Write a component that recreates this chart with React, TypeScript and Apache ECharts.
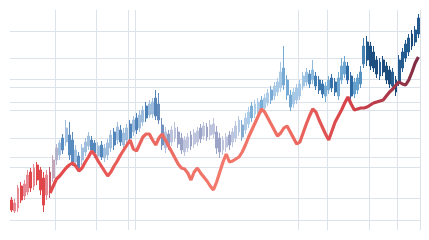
import React, { useEffect, useRef } from 'react';
import * as echarts from 'echarts';

// [open, close, lowest, highest]
const candles: number[][] = [
  [30,20,18,33],[19,27,17,31],[22,42,18,45],[44,30,27,48],[34,46,30,50],
  [38,55,35,60],[58,42,38,62],[44,62,40,66],[65,50,45,68],[60,40,35,63],
  [52,25,18,58],[35,55,30,60],[58,38,32,63],[52,70,48,75],[70,82,65,86],
  [75,87,70,90],[92,80,76,96],[88,102,84,110],[95,75,70,108],[90,68,64,98],
  [68,80,62,85],[74,62,58,78],[70,82,65,86],[78,88,74,92],[84,94,80,98],
  [90,80,76,94],[87,77,72,90],[74,84,70,88],[85,73,70,89],[72,82,68,86],
  [75,87,70,91],[82,95,78,100],[98,85,80,102],[90,103,86,108],[100,88,84,105],
  [85,97,80,102],[90,102,85,106],[106,92,88,110],[98,110,94,114],[112,100,96,117],
  [102,115,98,120],[108,120,104,124],[124,112,108,128],[115,126,112,130],[116,128,112,132],
  [132,114,110,140],[126,110,106,137],[105,85,80,112],[82,98,77,103],[96,84,80,100],
  [88,100,84,104],[92,102,88,108],[98,86,82,103],[92,80,76,97],[78,90,74,94],
  [82,93,78,97],[95,84,80,99],[86,97,82,101],[88,99,84,103],[102,91,87,106],
  [94,104,90,108],[103,93,89,107],[95,105,90,110],[96,106,92,112],[98,82,76,104],
  [92,78,72,97],[80,90,75,94],[83,93,78,97],[95,85,80,99],[88,98,83,102],
  [92,104,88,109],[98,110,94,114],[105,93,89,110],[100,112,96,117],[106,118,102,123],
  [124,112,108,128],[116,126,112,130],[118,128,114,132],[130,120,117,134],[122,132,118,136],
  [127,137,124,141],[140,130,126,144],[134,144,130,148],[138,148,134,152],[142,158,138,168],
  [162,145,140,184],[150,135,130,155],[135,123,119,140],[126,138,122,142],[130,142,126,146],
  [134,146,130,150],[144,154,140,158],[148,158,144,162],[156,146,142,160],[150,160,146,170],
  [154,144,140,158],[150,140,136,154],[146,136,132,150],[134,144,128,148],[140,150,136,154],
  [152,142,138,156],[148,138,134,152],[134,152,130,158],[150,164,146,172],[156,168,152,174],
  [164,150,146,168],[154,134,130,158],[136,148,132,152],[140,152,136,156],[146,158,142,164],
  [166,184,162,192],[188,170,164,194],[184,164,160,188],[178,162,158,184],[170,156,152,174],
  [154,168,150,172],[170,158,154,174],[164,150,146,168],[160,146,142,164],[144,158,140,162],
  [150,138,134,154],[148,170,144,175],[162,178,158,182],[172,186,168,190],[178,192,174,196],
  [196,184,180,200],[188,200,184,204],[196,212,192,216]
];

// line series starts at category index lineStart
const lineStart = 12;
const lineValues: number[] = [
  37,44,51,54,58,62,65,67,64,59,
  62,68,73,79,75,69,64,59,54,58,
  64,69,75,80,85,90,81,79,86,93,
  96,96,90,85,92,96,90,84,78,72,
  66,62,61,57,50,58,62,57,53,49,
  44,40,48,58,68,76,68,69,71,73,
  78,85,93,100,107,114,121,118,112,106,
  100,94,97,102,104,98,92,86,88,97,
  106,114,121,118,110,103,96,90,99,108,
  114,120,127,133,126,120,121,122,122,123,
  125,127,128,129,130,134,138,141,145,148,
  146,145,150,158,167,173
];

const hGridValues = [199, 172, 151, 143, 128, 120, 92, 73, 63, 32, 10];
const vGridIndices = [14, 27, 37, 39, 90, 99, 112, 121];
const categories = candles.map((_, i) => `T${i + 1}`);

// colour anchors along the series: [index, down colour, up colour]
const colorAnchors: [number, string, string][] = [
  [0, '#e0454a', '#e58a94'],
  [11, '#e0454a', '#e58a94'],
  [15, '#5a8cc0', '#a2c0de'],
  [44, '#4a7fb5', '#9dbcdc'],
  [50, '#9aa3c6', '#bec3dc'],
  [68, '#9ca5c8', '#c0c5de'],
  [74, '#7aaed6', '#abcce8'],
  [90, '#72a8d4', '#a6c8e6'],
  [96, '#3a75ac', '#7eb0d8'],
  [108, '#2c66a0', '#64a0cc'],
  [112, '#1c4f80', '#2a6398'],
  [127, '#174574', '#22598c']
];

function hexToRgb(h: string) {
  const n = parseInt(h.slice(1), 16);
  return [(n >> 16) & 255, (n >> 8) & 255, n & 255];
}
function mix(a: string, b: string, t: number) {
  const ca = hexToRgb(a), cb = hexToRgb(b);
  const c = ca.map((v, k) => Math.round(v + (cb[k] - v) * t));
  return `rgb(${c[0]},${c[1]},${c[2]})`;
}
function colorAt(i: number, up: boolean) {
  const k = up ? 2 : 1;
  for (let j = 0; j < colorAnchors.length - 1; j++) {
    const a = colorAnchors[j], b = colorAnchors[j + 1];
    if (i >= a[0] && i <= b[0]) {
      const t = (i - a[0]) / (b[0] - a[0] || 1);
      return mix(a[k] as string, b[k] as string, t);
    }
  }
  return colorAnchors[colorAnchors.length - 1][k] as string;
}

const gridColor = '#dde3ea';

export default function App() {
  const ref = useRef<HTMLDivElement>(null);
  useEffect(() => {
    document.body.style.margin = '0';
    const chart = echarts.init(ref.current!, null, { renderer: 'svg' });
    const candleData = candles.map((c, i) => {
      const up = c[1] >= c[0];
      const col = colorAt(i, up);
      return {
        value: c,
        itemStyle: { color: col, color0: col, borderColor: col, borderColor0: col }
      };
    });
    const lineData: (number | string)[] = categories.map((_, i) =>
      i < lineStart ? '-' : lineValues[i - lineStart]
    );
    chart.setOption({
      animation: false,
      backgroundColor: '#ffffff',
      grid: { left: 10, right: 9, top: 10, bottom: 10 },
      xAxis: {
        type: 'category',
        data: categories,
        boundaryGap: true,
        axisLine: { show: false },
        axisTick: { show: false },
        axisLabel: { show: false },
        splitLine: {
          show: true,
          interval: (idx: number) => vGridIndices.includes(idx),
          lineStyle: { color: gridColor, width: 1 }
        }
      },
      yAxis: {
        type: 'value',
        min: 0,
        max: 220,
        axisLine: { show: false },
        axisLabel: { show: false },
        axisTick: { show: false, customValues: hGridValues },
        splitLine: { show: true, lineStyle: { color: gridColor, width: 1 } }
      },
      series: [
        {
          type: 'candlestick',
          data: candleData,
          barWidth: 2.4,
          itemStyle: { borderWidth: 1 }
        },
        {
          type: 'line',
          data: lineData,
          symbol: 'none',
          smooth: false,
          z: 3,
          lineStyle: {
            width: 3.2,
            color: new echarts.graphic.LinearGradient(0, 0, 1, 0, [
              { offset: 0, color: '#e2474a' },
              { offset: 0.3, color: '#ec6a62' },
              { offset: 0.45, color: '#f27a6c' },
              { offset: 0.65, color: '#ee6c62' },
              { offset: 0.8, color: '#d8444a' },
              { offset: 0.9, color: '#b43b4a' },
              { offset: 1, color: '#7e2c44' }
            ])
          }
        }
      ]
    });
    return () => chart.dispose();
  }, []);
  return <div ref={ref} style={{ width: 429, height: 240 }} />;
}
